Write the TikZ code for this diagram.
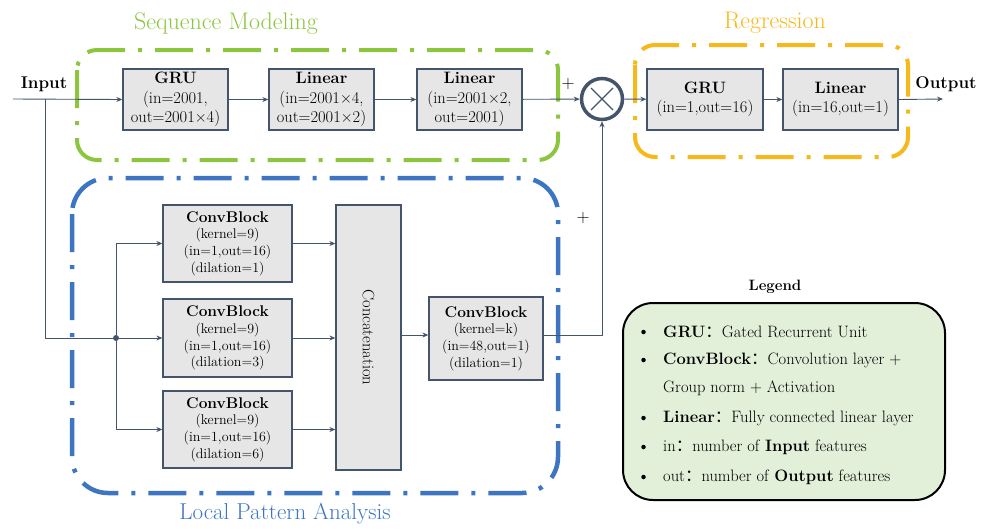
\documentclass[tikz,border=0pt]{standalone}
\usepackage{fontspec}
\newfontfamily\cjk{Noto Sans CJK SC}
\usetikzlibrary{arrows.meta}
\definecolor{gline}{HTML}{44546A}
\definecolor{bfill}{HTML}{E7E6E6}
\definecolor{sgreen}{HTML}{8CC63F}
\definecolor{sorange}{HTML}{F6B81B}
\definecolor{sblue}{HTML}{3E75C2}
\definecolor{lfill}{HTML}{E2EFD9}
\tikzset{
  blk/.style={draw=gline,fill=bfill,line width=1.3pt,inner sep=0pt,align=center,
    font=\fontsize{16.5}{19.5}\selectfont},
  cblk/.style={blk,font=\fontsize{14}{16.7}\selectfont},
  conn/.style={draw=gline,line width=0.9pt,-{Stealth[length=6pt,width=5pt]}},
  plain/.style={draw=gline,line width=0.9pt},
  group/.style={line width=4pt,dash pattern=on 38pt off 13pt on 4pt off 13pt},
  ttl/.style={font=\fontsize{24}{28}\selectfont},
  legtxt/.style={anchor=west,inner sep=0pt,font=\fontsize{16.5}{18}\selectfont},
}
\begin{document}
\begin{tikzpicture}[x=1pt,y=-1pt]
\useasboundingbox (0,0) rectangle (985,528);
% groups
\draw[group,draw=sgreen,rounded corners=20pt] (77,50) rectangle (558,160);
\draw[group,draw=sorange,rounded corners=20pt] (635,45) rectangle (908,157);
\draw[group,draw=sblue,line width=4.5pt,rounded corners=36pt] (72,178) rectangle (558,493);
\node[ttl,text=sgreen] (tseq) at (226,24) {Sequence Modeling};
\node[ttl,text=sorange] (treg) at (775,23) {Regression};
\node[ttl,text=sblue,font=\fontsize{23}{27}\selectfont] (tloc) at (285,514) {Local Pattern Analysis};
% top row
\node[blk,minimum width=105pt,minimum height=61pt] (gru1) at (175.5,99.5) {\textbf{GRU}\\(in=2001,\\out=2001\texttimes4)};
\node[blk,minimum width=105pt,minimum height=61pt] (lin1) at (321.5,99.5) {\textbf{Linear}\\(in=2001\texttimes4,\\out=2001\texttimes2)};
\node[blk,minimum width=105pt,minimum height=61pt] (lin2) at (469.5,99.5) {\textbf{Linear}\\(in=2001\texttimes2,\\out=2001)};
\node[circle,draw=gline,line width=3.5pt,fill=white,minimum size=41pt,inner sep=0pt] (mul) at (602,99) {};
\draw[gline,line width=1.1pt] ([shift={(-11,-11)}]mul.center) -- ([shift={(11,11)}]mul.center)
  ([shift={(-11,11)}]mul.center) -- ([shift={(11,-11)}]mul.center);
\node[blk,minimum width=116pt,minimum height=61pt] (rgru) at (705,99.5) {\textbf{GRU}\\(in=1,out=16)};
\node[blk,minimum width=115pt,minimum height=61pt] (rlin) at (840.5,99.5) {\textbf{Linear}\\(in=16,out=1)};
\node[font=\bfseries\fontsize{17}{20}\selectfont] (inp) at (44,84) {Input};
\node[font=\bfseries\fontsize{17}{20}\selectfont] (outp) at (946,84) {Output};
\coordinate (inl) at (13,99);
\coordinate (outr) at (943,99);
\coordinate (inbend) at (45,99);
\coordinate (indown) at (45,338);
\node[circle,fill=gline,inner sep=0pt,minimum size=6pt] (jn) at (116,338) {};
\node[font=\fontsize{18}{20}\selectfont] (p1) at (568,84) {+};
\node[font=\fontsize{18}{20}\selectfont] (p2) at (583,218) {+};
% bottom
\node[cblk,minimum width=129pt,minimum height=77pt] (cb1) at (227.5,243.5) {\textbf{\fontsize{15.5}{18}\selectfont ConvBlock}\\(kernel=9)\\(in=1,out=16)\\(dilation=1)};
\node[cblk,minimum width=129pt,minimum height=78pt] (cb2) at (227.5,338) {\textbf{\fontsize{15.5}{18}\selectfont ConvBlock}\\(kernel=9)\\(in=1,out=16)\\(dilation=3)};
\node[cblk,minimum width=129pt,minimum height=77pt] (cb3) at (227.5,429.5) {\textbf{\fontsize{15.5}{18}\selectfont ConvBlock}\\(kernel=9)\\(in=1,out=16)\\(dilation=6)};
\node[blk,minimum width=65pt,minimum height=265pt] (cat) at (368.5,337.5) {};
\node[rotate=-90,font=\fontsize{16.5}{19}\selectfont] (cattxt) at (cat.center) {Concatenation};
\node[cblk,minimum width=114pt,minimum height=83pt] (cbk) at (486,338.5) {\textbf{\fontsize{15.5}{18}\selectfont ConvBlock}\\(kernel=k)\\(in=48,out=1)\\(dilation=1)};
\coordinate (cbkr) at (602,335);
% connectors
\draw[conn] (inl) -- (gru1.west);
\draw[plain] (inbend) -- (indown) -- (jn);
\draw[conn] (gru1) -- (lin1);
\draw[conn] (lin1) -- (lin2);
\draw[conn] (lin2) -- (mul);
\draw[conn] (mul) -- (rgru);
\draw[conn] (rgru) -- (rlin);
\draw[conn] (rlin.east) -- (outr);
\draw[conn] (jn) -- (cb2.west);
\draw[conn] (jn) |- (cb1.west);
\draw[conn] (jn) |- (cb3.west);
\draw[conn] (cb1.east) -- (cb1.east -| cat.west);
\draw[conn] (cb2.east) -- (cb2.east -| cat.west);
\draw[conn] (cb3.east) -- (cb3.east -| cat.west);
\draw[conn] (cat.east |- 0,335) -- (cbk.west |- 0,335);
\draw[conn] (cbk.east |- cbkr) -- (cbkr) -- (mul.south);
% legend
\node[font=\bfseries\fontsize{15}{18}\selectfont] (legt) at (775,287) {Legend};
\draw[black,line width=2pt,fill=lfill,rounded corners=30pt] (623,303) rectangle (945,500);
\foreach \i/\y in {1/332,2/360,4/418,5/447,6/477}{
  \node[circle,fill=black,inner sep=0pt,minimum size=4.5pt] (b\i) at (643.5,\y) {};
}
\node[legtxt] (l1) at (663,332) {\textbf{GRU}{\cjk ：}Gated Recurrent Unit};
\node[legtxt] (l2) at (663,360) {\textbf{ConvBlock}{\cjk ：}Convolution layer +};
\node[legtxt] (l3) at (663,388) {Group norm + Activation};
\node[legtxt] (l4) at (663,418) {\textbf{Linear}{\cjk ：}Fully connected linear layer};
\node[legtxt] (l5) at (663,447) {in{\cjk ：}number of \textbf{Input} features};
\node[legtxt] (l6) at (663,477) {out{\cjk ：}number of \textbf{Output} features};
\end{tikzpicture}
\end{document}
